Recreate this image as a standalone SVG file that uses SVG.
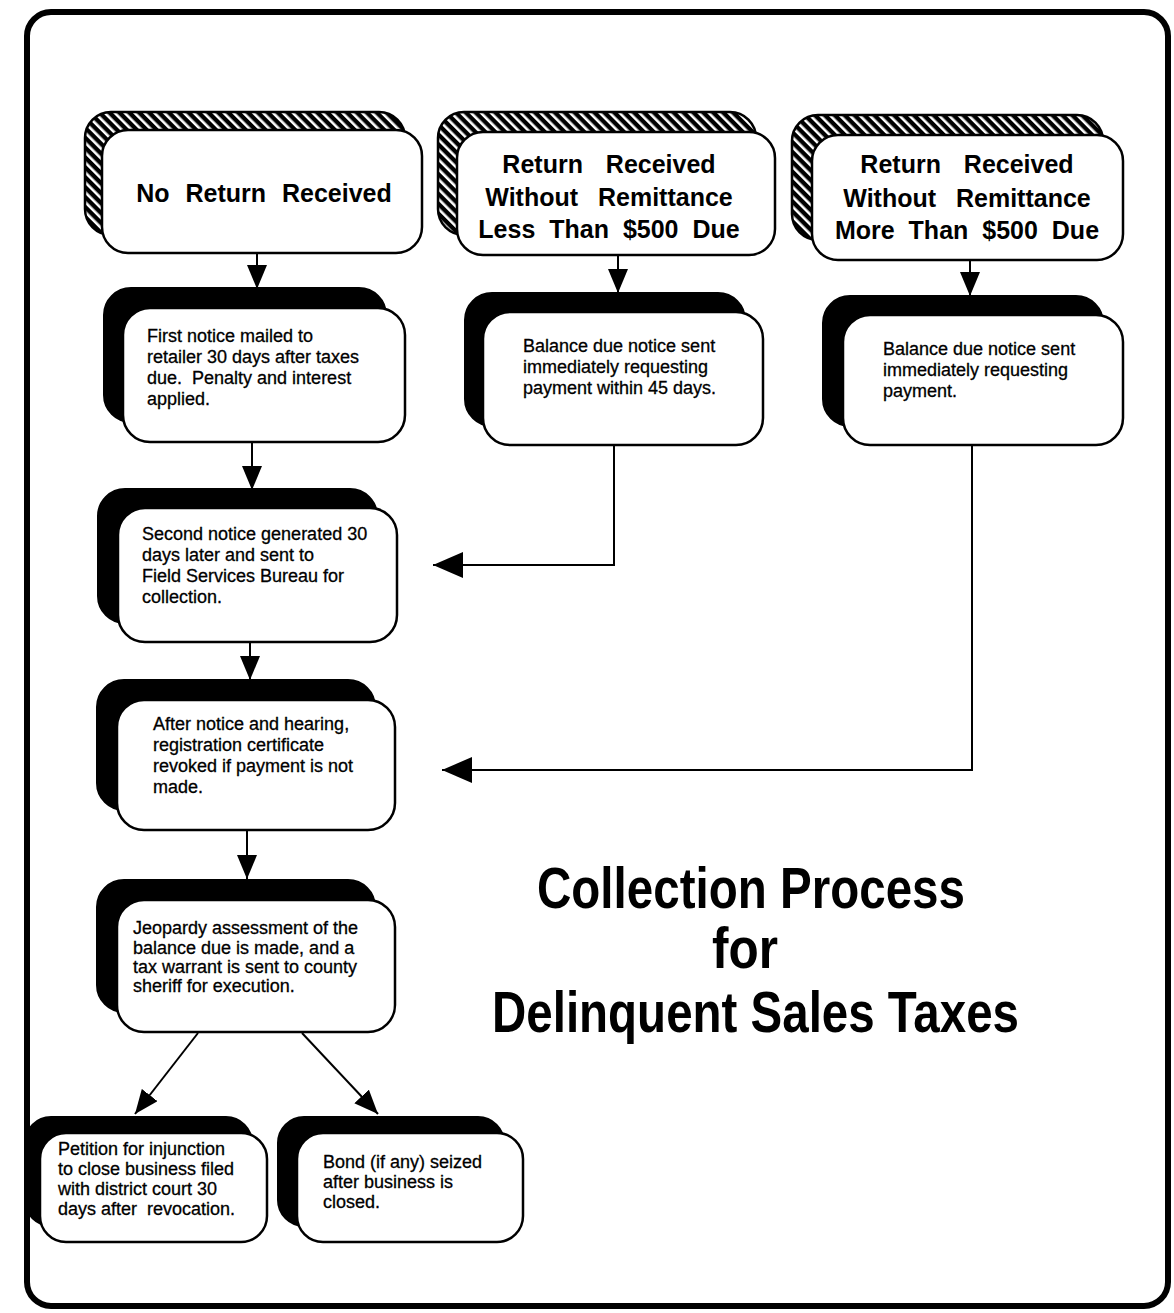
<svg xmlns="http://www.w3.org/2000/svg" width="1174" height="1313" viewBox="0 0 1174 1313">
<style>
.frame{fill:#fff;stroke:#000;stroke-width:6}
.box{fill:#fff;stroke:#000;stroke-width:2.5}
.shadow{fill:#000;stroke:#000;stroke-width:2}
.hatch{fill:url(#hatch);stroke:#000;stroke-width:2.5}
.lbl{font-family:"Liberation Sans",Arial,sans-serif;font-weight:bold;font-size:25px;text-anchor:middle;fill:#000}
.txt{font-family:"Liberation Sans",Arial,sans-serif;font-size:18px;fill:#000;stroke:#000;stroke-width:0.3}
.title{font-family:"Liberation Sans",Arial,sans-serif;font-weight:bold;font-size:58px;fill:#000}
.conn{fill:none;stroke:#000;stroke-width:2}
</style>
<defs>
<pattern id="hatch" patternUnits="userSpaceOnUse" width="7" height="7" patternTransform="rotate(-45)">
<rect width="7" height="7" fill="#000"/>
<rect x="0" y="0" width="2.6" height="7" fill="#fff"/>
</pattern>
<marker id="ah" viewBox="0 0 24 20" refX="24" refY="10" markerWidth="24" markerHeight="20" markerUnits="userSpaceOnUse" orient="auto"><path d="M0,0 L24,10 L0,20 z" fill="#000"/></marker>
<marker id="ahL" viewBox="0 0 30 26" refX="30" refY="13" markerWidth="30" markerHeight="26" markerUnits="userSpaceOnUse" orient="auto"><path d="M0,0 L30,13 L0,26 z" fill="#000"/></marker>
</defs>
<rect class="frame" x="27" y="12" width="1141" height="1294" rx="24"/>

<g id="connectors">
<line class="conn" x1="257" y1="253" x2="257" y2="289" marker-end="url(#ah)"/>
<line class="conn" x1="618" y1="255" x2="618" y2="293" marker-end="url(#ah)"/>
<line class="conn" x1="970" y1="260" x2="970" y2="296" marker-end="url(#ah)"/>
<line class="conn" x1="252" y1="442" x2="252" y2="490" marker-end="url(#ah)"/>
<line class="conn" x1="250" y1="642" x2="250" y2="680" marker-end="url(#ah)"/>
<line class="conn" x1="247" y1="830" x2="247" y2="879" marker-end="url(#ah)"/>
<polyline class="conn" points="614,445 614,565 433,565" marker-end="url(#ahL)"/>
<polyline class="conn" points="972,445 972,770 442,770" marker-end="url(#ahL)"/>
<line class="conn" x1="198" y1="1033" x2="135" y2="1114" marker-end="url(#ah)"/>
<line class="conn" x1="302" y1="1033" x2="378" y2="1114" marker-end="url(#ah)"/>
</g>

<g id="start-no-return">
<rect class="hatch" x="85" y="112" width="320" height="123" rx="26"/>
<rect class="box" x="102" y="130" width="320" height="123" rx="26"/>
<text class="lbl" x="264" y="202" style="word-spacing:9px">No Return Received</text>
</g>

<g id="start-less-500">
<rect class="hatch" x="438" y="112" width="318" height="123" rx="26"/>
<rect class="box" x="457" y="132" width="318" height="123" rx="26"/>
<text class="lbl" x="609" y="173" style="word-spacing:16px">Return Received</text>
<text class="lbl" x="609" y="206" style="word-spacing:13px">Without Remittance</text>
<text class="lbl" x="609" y="238" style="word-spacing:7px">Less Than $500 Due</text>
</g>

<g id="start-more-500">
<rect class="hatch" x="792" y="115" width="311" height="125" rx="26"/>
<rect class="box" x="812" y="135" width="311" height="125" rx="26"/>
<text class="lbl" x="967" y="173" style="word-spacing:16px">Return Received</text>
<text class="lbl" x="967" y="207" style="word-spacing:13px">Without Remittance</text>
<text class="lbl" x="967" y="239" style="word-spacing:7px">More Than $500 Due</text>
</g>

<g id="first-notice">
<rect class="shadow" x="104" y="288" width="282" height="134" rx="27"/>
<rect class="box" x="123" y="308" width="282" height="134" rx="27"/>
<text class="txt" x="147" y="342">First notice mailed to</text>
<text class="txt" x="147" y="363">retailer 30 days after taxes</text>
<text class="txt" x="147" y="384" xml:space="preserve">due.  Penalty and interest</text>
<text class="txt" x="147" y="405">applied.</text>
</g>

<g id="balance-45">
<rect class="shadow" x="465" y="293" width="280" height="133" rx="27"/>
<rect class="box" x="483" y="312" width="280" height="133" rx="27"/>
<text class="txt" x="523" y="352">Balance due notice sent</text>
<text class="txt" x="523" y="373">immediately requesting</text>
<text class="txt" x="523" y="394">payment within 45 days.</text>
</g>

<g id="balance-immediate">
<rect class="shadow" x="823" y="296" width="280" height="130" rx="27"/>
<rect class="box" x="843" y="315" width="280" height="130" rx="27"/>
<text class="txt" x="883" y="355">Balance due notice sent</text>
<text class="txt" x="883" y="376">immediately requesting</text>
<text class="txt" x="883" y="397">payment.</text>
</g>

<g id="second-notice">
<rect class="shadow" x="98" y="489" width="279" height="134" rx="27"/>
<rect class="box" x="118" y="508" width="279" height="134" rx="27"/>
<text class="txt" x="142" y="540">Second notice generated 30</text>
<text class="txt" x="142" y="561">days later and sent to</text>
<text class="txt" x="142" y="582">Field Services Bureau for</text>
<text class="txt" x="142" y="603">collection.</text>
</g>

<g id="revocation">
<rect class="shadow" x="97" y="680" width="278" height="130" rx="27"/>
<rect class="box" x="117" y="700" width="278" height="130" rx="27"/>
<text class="txt" x="153" y="730">After notice and hearing,</text>
<text class="txt" x="153" y="751">registration certificate</text>
<text class="txt" x="153" y="772">revoked if payment is not</text>
<text class="txt" x="153" y="793">made.</text>
</g>

<g id="jeopardy">
<rect class="shadow" x="97" y="880" width="278" height="132" rx="27"/>
<rect class="box" x="117" y="900" width="278" height="132" rx="27"/>
<text class="txt" x="133" y="934">Jeopardy assessment of the</text>
<text class="txt" x="133" y="954">balance due is made, and a</text>
<text class="txt" x="133" y="973">tax warrant is sent to county</text>
<text class="txt" x="133" y="992">sheriff for execution.</text>
</g>

<g id="petition">
<rect class="shadow" x="25" y="1117" width="227" height="109" rx="26"/>
<rect class="box" x="40" y="1133" width="227" height="109" rx="26"/>
<text class="txt" x="58" y="1155">Petition for injunction</text>
<text class="txt" x="58" y="1175">to close business filed</text>
<text class="txt" x="58" y="1195">with district court 30</text>
<text class="txt" x="58" y="1215" xml:space="preserve">days after  revocation.</text>
</g>

<g id="bond">
<rect class="shadow" x="278" y="1117" width="226" height="109" rx="26"/>
<rect class="box" x="297" y="1133" width="226" height="109" rx="26"/>
<text class="txt" x="323" y="1168">Bond (if any) seized</text>
<text class="txt" x="323" y="1188">after business is</text>
<text class="txt" x="323" y="1208">closed.</text>
</g>

<g id="title">
<text class="title" x="537" y="908" textLength="428" lengthAdjust="spacingAndGlyphs">Collection Process</text>
<text class="title" x="712" y="968" textLength="66" lengthAdjust="spacingAndGlyphs">for</text>
<text class="title" x="492" y="1032" textLength="527" lengthAdjust="spacingAndGlyphs">Delinquent Sales Taxes</text>
</g>
</svg>
